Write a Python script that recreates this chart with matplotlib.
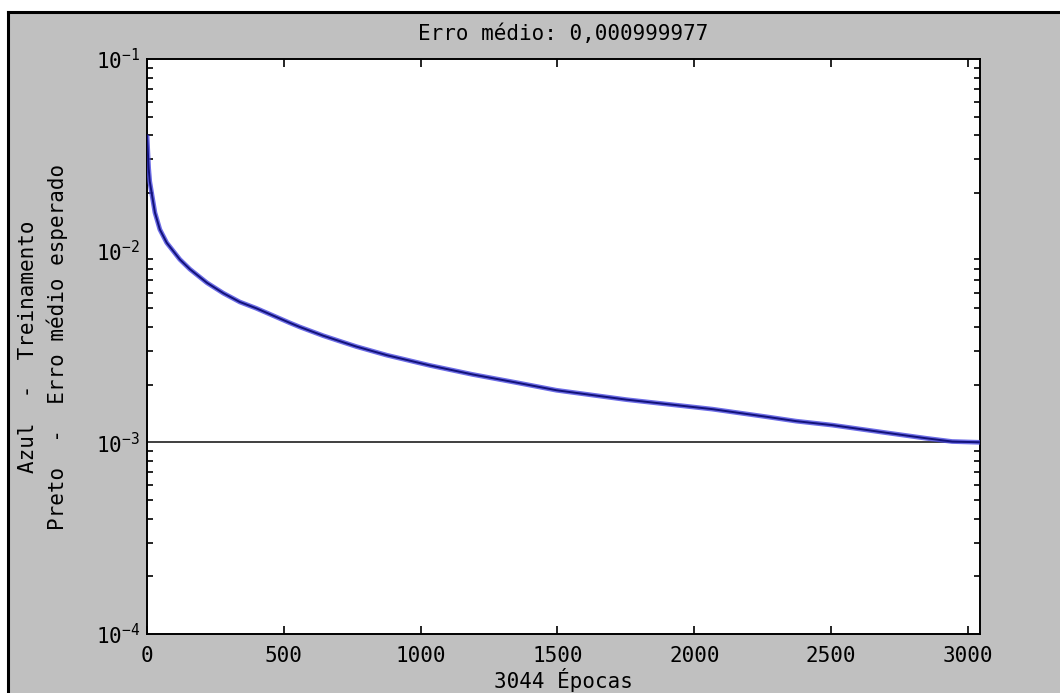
import matplotlib
matplotlib.use("Agg")
import matplotlib.pyplot as plt
from matplotlib.patches import Rectangle
from matplotlib.ticker import FixedLocator, FixedFormatter, LogLocator, NullFormatter

# Data
epochs = [0, 3, 6, 10, 17, 29, 47, 72, 120, 157, 219, 279, 339, 400, 522, 558,
          644, 716, 765, 876, 1033, 1190, 1350, 1496, 1752, 2066, 2263, 2372,
          2504, 2686, 2847, 2942, 3044]
train_error = [0.040, 0.033, 0.027, 0.023, 0.020, 0.0158, 0.0129, 0.0110, 0.0090,
               0.0080, 0.0068, 0.0060, 0.0054, 0.0050, 0.0042, 0.00400,
               0.00360, 0.00333, 0.00316, 0.00285, 0.00252, 0.00226, 0.00205,
               0.00187, 0.00167, 0.00149, 0.00136, 0.00129,
               0.00123, 0.00113, 0.00105, 0.00101, 0.00100]
target_error = 0.001
total_epochs = 3044
mean_error_text = "0,000999977"
x_ticks = [0, 500, 1000, 1500, 2000, 2500, 3000]
y_ticks = [1e-4, 1e-3, 1e-2, 1e-1]
y_tick_labels = [r"$\mathregular{10^{-4}}$", r"$\mathregular{10^{-3}}$",
                 r"$\mathregular{10^{-2}}$", r"$\mathregular{10^{-1}}$"]

W, H = 1060, 693
plt.rcParams['font.family'] = ['DejaVu Sans Mono']
plt.rcParams['mathtext.default'] = 'regular'
fs = 15

fig = plt.figure(figsize=(W / 100, H / 100), dpi=100)
fig.patch.set_facecolor('white')

# gray panel with black border on left/top
fig.patches.append(Rectangle((8 / W, 0), 1.0, 1 - 12 / H, transform=fig.transFigure,
                             facecolor='#c0c0c0', edgecolor='none', zorder=-10))
fig.add_artist(plt.Line2D([8 / W, 8 / W], [0, 1 - 12 / H], transform=fig.transFigure,
                          color='black', lw=2.2, zorder=-5))
fig.add_artist(plt.Line2D([8 / W, 1], [1 - 12 / H, 1 - 12 / H], transform=fig.transFigure,
                          color='black', lw=2.2, zorder=-5))

left, right, top, bottom = 147, 980, 59, 634
ax = fig.add_axes([left / W, 1 - bottom / H, (right - left) / W, (bottom - top) / H])
ax.set_facecolor('white')

ax.axhline(target_error, color='#303030', lw=1.3, zorder=2)
ax.plot(epochs, train_error, color='#4848e0', lw=3.4, alpha=0.8, zorder=3,
        solid_capstyle='butt')
ax.plot(epochs, train_error, color='#12127a', lw=1.4, zorder=4)

ax.set_yscale('log')
ax.set_xlim(0, total_epochs)
ax.set_ylim(1e-4, 1e-1)

ax.xaxis.set_major_locator(FixedLocator(x_ticks))
ax.yaxis.set_major_locator(FixedLocator(y_ticks))
ax.yaxis.set_major_formatter(FixedFormatter(y_tick_labels))
ax.yaxis.set_minor_locator(LogLocator(base=10, subs=range(2, 10)))
ax.yaxis.set_minor_formatter(NullFormatter())

ax.tick_params(which='both', direction='in', top=True, right=True, labelsize=fs,
               color='black', width=1.2)
ax.tick_params(which='major', length=6, pad=9)
ax.tick_params(which='minor', length=4)
ax.tick_params(axis='y', which='major', length=0, pad=5)
for sp in ax.spines.values():
    sp.set_linewidth(1.4)

ax.set_title("Erro médio: " + mean_error_text, fontsize=fs, pad=14)
ax.set_xlabel(f"{total_epochs} Épocas", fontsize=fs, labelpad=1)
ax.set_ylabel("Azul  -  Treinamento\nPreto  -  Erro médio esperado", fontsize=fs,
              labelpad=20, linespacing=1.5)

fig.savefig("out.png", dpi=100, facecolor=fig.get_facecolor())
